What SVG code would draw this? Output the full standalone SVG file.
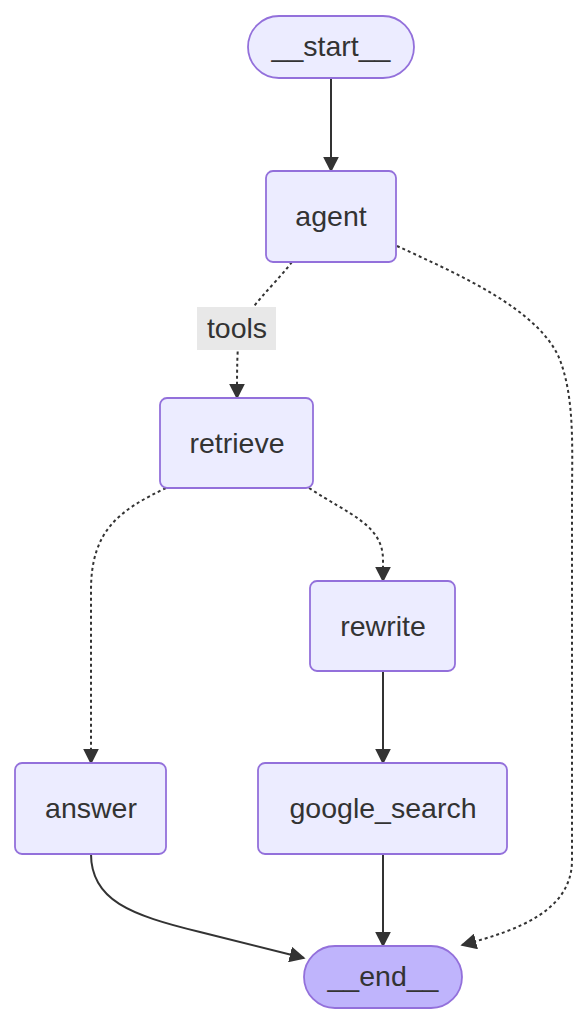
<svg xmlns="http://www.w3.org/2000/svg" width="588" height="1024" viewBox="0 0 588 1024">
<style>
.node rect{fill:#ECECFF;stroke:#9370DB;stroke-width:1.8}
.node.end rect{fill:#BFB4FC}
.node text{font-family:"Liberation Sans",Arial,sans-serif;font-size:28.5px;fill:#333;text-anchor:middle;dominant-baseline:central}
.edge{fill:none;stroke:#333;stroke-width:2}
.dot{stroke-dasharray:3 3}
.lbl{font-family:"Liberation Sans",Arial,sans-serif;font-size:28.5px;fill:#333;text-anchor:middle;dominant-baseline:central}
</style>
<defs>
<marker id="ah" viewBox="0 0 10 10" refX="10" refY="5" markerWidth="8" markerHeight="8" markerUnits="userSpaceOnUse" orient="auto">
<path d="M0,0 L10,5 L0,10 z" fill="#333"/>
</marker>
<marker id="arrow" viewBox="0 0 10 10" refX="9" refY="5" markerWidth="16" markerHeight="16" markerUnits="userSpaceOnUse" orient="auto">
<path d="M0,0 L10,5 L0,10 z" fill="#333"/>
</marker>
</defs>
<rect width="588" height="1024" fill="#fff"/>
<g id="edges">
<path class="edge" d="M331,78 L331,171" marker-end="url(#arrow)"/>
<path class="edge dot" d="M292,262 C270,290 250,305 240,330 C237,345 237,370 237,398" marker-end="url(#arrow)"/>
<path class="edge dot" d="M397,246 C460,275 540,310 560,360 C575,400 572,450 572,500 L572,860 C572,910 520,930 462,945" marker-end="url(#arrow)"/>
<path class="edge dot" d="M166,488 C120,510 91,530 91,590 L91,763" marker-end="url(#arrow)"/>
<path class="edge dot" d="M309,488 C350,515 383,525 383,560 L383,581" marker-end="url(#arrow)"/>
<path class="edge" d="M383,671 L383,763" marker-end="url(#arrow)"/>
<path class="edge" d="M383,854 L383,946" marker-end="url(#arrow)"/>
<path class="edge" d="M91,854 C91,900 130,915 200,932 L304,958" marker-end="url(#arrow)"/>
<rect x="197" y="307" width="79" height="43" fill="#e8e8e8"/>
<text class="lbl" x="237" y="328">tools</text>
</g>
<g id="start" class="node"><rect x="248" y="16" width="166" height="62" rx="31"/><text x="331" y="46">__start__</text></g>
<g id="agent" class="node"><rect x="266" y="171" width="130" height="91" rx="7"/><text x="331" y="216">agent</text></g>
<g id="retrieve" class="node"><rect x="160" y="398" width="153" height="90" rx="7"/><text x="237" y="443">retrieve</text></g>
<g id="rewrite" class="node"><rect x="310" y="581" width="145" height="90" rx="7"/><text x="383" y="626">rewrite</text></g>
<g id="answer" class="node"><rect x="15" y="763" width="151" height="91" rx="7"/><text x="91" y="808">answer</text></g>
<g id="google_search" class="node"><rect x="258" y="763" width="249" height="91" rx="7"/><text x="383" y="808">google_search</text></g>
<g id="end" class="node end"><rect x="304" y="946" width="158" height="62" rx="31"/><text x="383" y="976">__end__</text></g>
</svg>
